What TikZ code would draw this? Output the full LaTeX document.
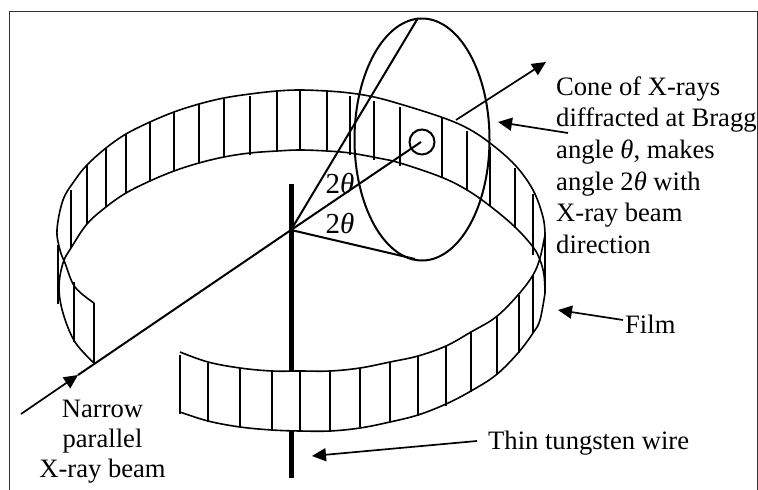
\documentclass[tikz,border=0pt]{standalone}
\usepackage{fontspec}
\setmainfont{Liberation Serif}
\usepackage{tikz}
\usetikzlibrary{arrows.meta,positioning,calc,shapes.geometric}

\newcommand{\thetachar}{\textit{θ}}

\tikzset{
	filmedge/.style={line width=1.6pt},
	filmbar/.style={line width=1.9pt},
	rayline/.style={line width=2pt},
	pointer/.style={-{Triangle[length=14pt,width=13pt]},line width=1.7pt},
	caption/.style={font=\fontsize{26.6}{31.6}\selectfont,inner sep=0pt,align=left},
	anglelabel/.style={font=\fontsize{29}{31.6}\selectfont,inner sep=0pt,anchor=base},
}

\begin{document}
\begin{tikzpicture}[x=1pt,y=-1pt]
	\useasboundingbox (0,0) rectangle (758,490);

	% outer frame, open at the bottom
	\draw[line width=1pt,black!80] (9.5,490)--(9.5,11)--(757,11)--(757,490);

	% film, back half
	\draw[filmedge] plot[smooth,tension=0.6] coordinates {(94,303) (75,287) (65,263) (60,250) (57,230) (63,200) (75,180) (87,165) (106,148) (126,134) (150,122) (174,112) (199,104) (224,98) (250,94) (277,91) (300,90) (327,91) (350,93) (374,97) (400,104) (441,117) (467,128) (490,143) (515,165) (533,190) (543,217) (545,235)};
	\draw[filmedge] plot[smooth,tension=0.6] coordinates {(94,363) (75,342) (63,313) (59,287) (63,263) (71,248) (87,224) (106,207) (126,193) (150,181) (174,171) (199,163) (224,157) (250,153) (277,151) (300,150) (327,151) (350,153) (378,158) (400,163) (441,177) (467,190) (490,206) (515,227) (533,247) (540,260) (544,275) (545,293)};

	% film, front half
	\draw[filmedge] plot[smooth,tension=0.6] coordinates {(180,352) (208,362) (240,368) (272,371) (300,371) (330,371) (360,368) (390,362) (418,356) (446,346) (471,332) (496,317) (518,295) (533,275) (540,258) (545,235)};
	\draw[filmedge] plot[smooth,tension=0.6] coordinates {(180,412) (208,421) (240,427) (272,430) (300,431) (330,431) (360,428) (390,422) (418,415) (446,404) (471,391) (496,375) (518,353) (533,333) (540,320) (545,293)};

	% bars on the film
	\foreach \xbar/\ytop/\ybot in {58/245/304,71/190/248,74/282/342,94/303/363,87/165/224,106/148/207,126/134/193,150/122/181,174/112/171,199/104/163,224/99/157,250/96/155,277/92/151,300/91/150,327/92/151,350/96/155,374/101/160,400/107/166,442/118/178,467/131/190,490/147/206,515/168/228,533/194/255,545/235/293,180/355/414,208/363/422,240/368/427,272/371/430,300/371/431,330/372/432,360/368/427,390/362/422,418/356/416,446/346/406,471/332/392,497/317/375,519/295/353,533/275/333}
		\draw[filmbar] (\xbar,\ytop)--(\xbar,\ybot);

	% wire, hidden behind the front of the film
	\coordinate (wiretop) at (291,184);
	\coordinate (wiremid) at (291,371);
	\coordinate (wirelow) at (291,431);
	\coordinate (wireend) at (291,478);
	\draw[line width=5pt] (wiretop)--(wiremid);
	\draw[line width=5pt] (wirelow)--(wireend);

	% cone seen from the side
	\node[draw,ellipse,line width=2pt,minimum width=135pt,minimum height=242pt,inner sep=0pt] (cone) at (422,139.5) {};
	\node[draw,circle,line width=2pt,minimum size=25pt,inner sep=0pt] (spot) at (422,142) {};

	% rays
	\coordinate (beamstart) at (21,414);
	\coordinate (beamtip) at (78,375);
	\coordinate (origin) at (291,230);
	\coordinate (beamend) at (421,142);
	\coordinate (conetop) at (418,18);
	\coordinate (conelow) at (415,259);
	\coordinate (exitstart) at (456,120);
	\coordinate (exittip) at (546,62);
	\draw[pointer] (beamstart)--(beamtip);
	\draw[rayline] (beamtip)--(origin)--(beamend);
	\draw[rayline] (origin)--(conetop);
	\draw[rayline] (origin)--(conelow);
	\draw[pointer] (exitstart)--(exittip);

	% angle labels
	\node[anglelabel] (upperangle) at (340,193) {2\thetachar};
	\node[anglelabel] (lowerangle) at (340,233) {2\thetachar};

	% labels
	\node[caption,anchor=base west] (conetext) at (556,95) {Cone of X-rays};
	\node[caption,anchor=base west] (conetextb) at (556,126) {diffracted at Bragg};
	\node[caption,anchor=base west] (conetextc) at (556,158) {angle \thetachar, makes};
	\node[caption,anchor=base west] (conetextd) at (556,190) {angle 2\thetachar\ with};
	\node[caption,anchor=base west] (conetexte) at (556,221) {X-ray beam};
	\node[caption,anchor=base west] (conetextf) at (556,253) {direction};
	\node[caption,anchor=base west] (film) at (625,333) {Film};
	\node[caption,anchor=base west] (wiretext) at (488,449) {Thin tungsten wire};
	\node[caption,anchor=base] (beamtext) at (102.5,417) {Narrow};
	\node[caption,anchor=base] (beamtextb) at (102.5,447) {parallel};
	\node[caption,anchor=base] (beamtextc) at (102.5,477) {X-ray beam};

	% pointers from the labels
	\coordinate (conefrom) at (568,133);
	\coordinate (conepoint) at (498,122);
	\coordinate (filmfrom) at (623,320);
	\coordinate (filmpoint) at (558,310);
	\coordinate (wirefrom) at (477,441);
	\coordinate (wirepoint) at (312,456);
	\draw[pointer] (conefrom)--(conepoint);
	\draw[pointer] (filmfrom)--(filmpoint);
	\draw[pointer] (wirefrom)--(wirepoint);
\end{tikzpicture}
\end{document}
